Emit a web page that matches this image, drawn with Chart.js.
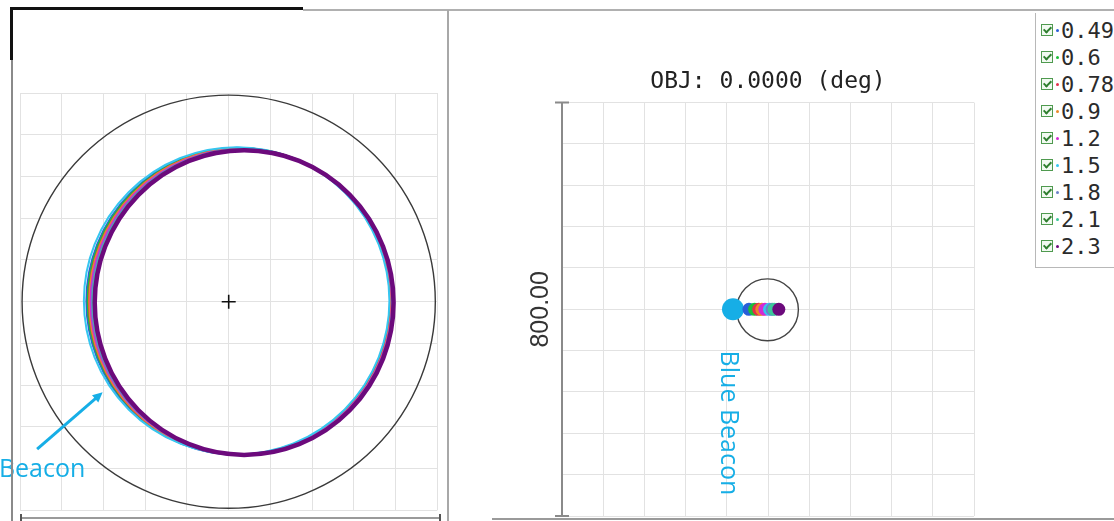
<!DOCTYPE html>
<html>
<head>
<meta charset="utf-8">
<script src="https://cdn.jsdelivr.net/npm/chart.js@4/dist/chart.umd.min.js"></script>
<style>
  html, body { margin: 0; padding: 0; background: #fff; }
  body { width: 1114px; height: 521px; position: relative; overflow: hidden;
         font-family: "Liberation Sans", Arial, sans-serif; }
  .abs { position: absolute; }
  #leftWrap  { left: 0; top: 12px; width: 446px; height: 507px; }
  #rightWrap { left: 450px; top: 0; width: 560px; height: 527px; }
  .ln { position: absolute; }
  #legend { position: absolute; left: 1035px; top: 13px; width: 100px; height: 254px;
            border-left: 1px solid #b8b8b8; border-bottom: 1px solid #b8b8b8;
            font-family: "DejaVu Sans Mono", monospace; font-size: 22px; color: #2b2b2b; }
  .item { position: absolute; left: 0; height: 26px; display: flex; align-items: center; white-space: nowrap; }
  .box { width: 10px; height: 10px; border: 1.5px solid #4f9a4f; margin-left: 5px; position: relative; background: #f2faf2; }
  .box::after { content: ""; position: absolute; left: 3px; top: 0px; width: 3px; height: 6px;
                border: solid #2f7f2f; border-width: 0 2px 2px 0; transform: rotate(45deg); }
  .dot { width: 3px; height: 3px; border-radius: 50%; margin: 0 2px 0 3px; }
</style>
</head>
<body>
<div id="leftWrap" class="abs"><canvas id="leftChart"></canvas></div>
<div id="rightWrap" class="abs"><canvas id="rightChart"></canvas></div>
<div id="legend"></div>

<!-- window frame -->
<div class="ln" style="left:10px;top:7px;width:293px;height:3px;background:#111;"></div>
<div class="ln" style="left:303px;top:9px;width:811px;height:2px;background:#b0b0b0;"></div>
<div class="ln" style="left:10px;top:7px;width:3px;height:53px;background:#111;"></div>
<div class="ln" style="left:11px;top:60px;width:1.5px;height:461px;background:#8a8a8a;"></div>
<div class="ln" style="left:447px;top:10px;width:2px;height:511px;background:#a8a8a8;"></div>
<div class="ln" style="left:20px;top:517px;width:420px;height:1.5px;background:#9a9a9a;"></div>
<div class="ln" style="left:20px;top:514px;width:1.5px;height:7px;background:#555;"></div>
<div class="ln" style="left:439px;top:514px;width:1.5px;height:7px;background:#555;"></div>
<div class="ln" style="left:492px;top:518px;width:622px;height:2px;background:#9a9a9a;"></div>

<script>
// ---- series (height values) ----
const seriesLabels = ['0.49', '0.6', '0.78', '0.9', '1.2', '1.5', '1.8', '2.1', '2.3'];
const seriesColors = ['#2a5fd8', '#1cbf3a', '#e2304a', '#ea8a2a', '#d42ad4', '#36c6f0', '#6a82c8', '#3cc89a', '#6c0a7c'];

// ---- left panel: traced rings per series (grid units, centre + half axes) ----
const ringCenterX = [0.23, 0.25, 0.27, 0.28, 0.30, 0.19, 0.32, 0.34, 0.37];
const ringCenterY = [0.01, 0.01, 0.00, 0.00, 0.00, 0.02, -0.01, -0.01, -0.02];
const ringRadiusX = [3.64, 3.63, 3.62, 3.62, 3.61, 3.66, 3.60, 3.59, 3.58];
const ringRadiusY = [3.68, 3.67, 3.67, 3.67, 3.66, 3.68, 3.66, 3.66, 3.65];
const outerRadius = 4.95;
const beaconArrowFrom = { x: -4.59, y: -3.53 };
const beaconArrowTo   = { x: -3.02, y: -2.17 };
const beaconTextAt    = { x: -4.47, y: -4.02 };

// ---- right panel: positions (same units as the 800.00 span) ----
const blueBeacon = { x: -68, y: 0 };
const dotX = [-37, -26, -18, -12, -6, 3, 8, 12, 21];
const dotY = [0, 0, 0, 0, 0, 0, 0, 0, 0];
const rangeCircle = { x: -1, y: -1, r: 60 };
const blueBeaconTextAt = { x: -77, y: -220 };
const spanLabel = '800.00';
const titleText = 'OBJ: 0.0000 (deg)';

const beaconColor = '#16aee6';
const gridColor = '#e2e2e2';

// ---- legend ----
const legendEl = document.getElementById('legend');
seriesLabels.forEach((lab, i) => {
  const it = document.createElement('div');
  it.className = 'item';
  it.style.top = (4 + 27 * i) + 'px';
  const b = document.createElement('span'); b.className = 'box';
  const d = document.createElement('span'); d.className = 'dot'; d.style.background = seriesColors[i];
  const t = document.createElement('span'); t.textContent = lab;
  it.append(b, d, t);
  legendEl.appendChild(it);
});

function zeroFit(s) { s.height = 0; }
function hiddenAxis(min, max, step) {
  return {
    type: 'linear', min, max,
    ticks: { display: false, stepSize: step },
    grid: { color: gridColor, lineWidth: 1, drawTicks: false },
    border: { display: false }
  };
}

// ---- left chart ----
const leftPlugin = {
  id: 'leftRings',
  beforeDatasetsDraw(chart) {
    const { ctx, scales: { x, y } } = chart;
    const ell = (cx, cy, rx, ry, color, w) => {
      const px = x.getPixelForValue(cx), py = y.getPixelForValue(cy);
      const prx = Math.abs(x.getPixelForValue(cx + rx) - px);
      const pry = Math.abs(y.getPixelForValue(cy + ry) - py);
      ctx.beginPath();
      ctx.ellipse(px, py, prx, pry, 0, 0, Math.PI * 2);
      ctx.strokeStyle = color; ctx.lineWidth = w; ctx.stroke();
    };
    ctx.save();
    ell(0, 0, outerRadius, outerRadius, '#3a3a3a', 1.4);
    seriesLabels.forEach((_, i) =>
      ell(ringCenterX[i], ringCenterY[i], ringRadiusX[i], ringRadiusY[i], seriesColors[i],
          i === seriesLabels.length - 1 ? 4.5 : 2));
    ctx.restore();
  },
  afterDraw(chart) {
    const { ctx, scales: { x, y } } = chart;
    const x0 = x.getPixelForValue(beaconArrowFrom.x), y0 = y.getPixelForValue(beaconArrowFrom.y);
    const x1 = x.getPixelForValue(beaconArrowTo.x),   y1 = y.getPixelForValue(beaconArrowTo.y);
    const a = Math.atan2(y1 - y0, x1 - x0);
    const head = 11;
    ctx.save();
    ctx.strokeStyle = beaconColor; ctx.fillStyle = beaconColor; ctx.lineWidth = 3;
    ctx.beginPath();
    ctx.moveTo(x0, y0);
    ctx.lineTo(x1 - head * 0.8 * Math.cos(a), y1 - head * 0.8 * Math.sin(a));
    ctx.stroke();
    ctx.beginPath();
    ctx.moveTo(x1, y1);
    ctx.lineTo(x1 - head * Math.cos(a - 0.45), y1 - head * Math.sin(a - 0.45));
    ctx.lineTo(x1 - head * Math.cos(a + 0.45), y1 - head * Math.sin(a + 0.45));
    ctx.closePath(); ctx.fill();
    ctx.font = '25px "Open Sans", "Liberation Sans", sans-serif';
    ctx.textAlign = 'center'; ctx.textBaseline = 'middle';
    ctx.fillText('Beacon', x.getPixelForValue(beaconTextAt.x), y.getPixelForValue(beaconTextAt.y));
    ctx.restore();
  }
};

new Chart(document.getElementById('leftChart'), {
  type: 'scatter',
  data: {
    datasets: [{
      label: 'centre',
      data: [{ x: 0, y: 0 }],
      pointStyle: 'cross', pointRadius: 7,
      borderColor: '#111', borderWidth: 1.6, backgroundColor: '#111'
    }]
  },
  options: {
    responsive: true, maintainAspectRatio: false, animation: false,
    layout: { padding: { left: 20, right: 8, top: 81, bottom: 7 } },
    plugins: { legend: { display: false }, tooltip: { enabled: false } },
    scales: {
      x: Object.assign(hiddenAxis(-5, 5, 1), { afterFit: zeroFit }),
      y: Object.assign(hiddenAxis(-5, 5, 1), { afterFit: s => { s.width = 0; } })
    }
  },
  plugins: [leftPlugin]
});

// ---- right chart ----
const rightPlugin = {
  id: 'rightDecor',
  beforeDatasetsDraw(chart) {
    const { ctx, scales: { x, y } } = chart;
    const px = x.getPixelForValue(rangeCircle.x), py = y.getPixelForValue(rangeCircle.y);
    const pr = Math.abs(x.getPixelForValue(rangeCircle.x + rangeCircle.r) - px);
    ctx.save();
    ctx.beginPath(); ctx.arc(px, py, pr, 0, Math.PI * 2);
    ctx.strokeStyle = '#444'; ctx.lineWidth = 1.4; ctx.stroke();
    ctx.restore();
  },
  afterDraw(chart) {
    const { ctx, chartArea: ca, scales: { x, y } } = chart;
    ctx.save();
    // span bar with end caps
    ctx.strokeStyle = '#8a8a8a'; ctx.lineWidth = 2;
    ctx.beginPath();
    ctx.moveTo(ca.left, ca.top); ctx.lineTo(ca.left, ca.bottom);
    ctx.moveTo(ca.left - 7, ca.top); ctx.lineTo(ca.left + 7, ca.top);
    ctx.moveTo(ca.left - 7, ca.bottom); ctx.lineTo(ca.left + 7, ca.bottom);
    ctx.stroke();
    // vertical caption under the beacon
    ctx.translate(x.getPixelForValue(blueBeaconTextAt.x), y.getPixelForValue(blueBeaconTextAt.y));
    ctx.rotate(Math.PI / 2);
    ctx.fillStyle = beaconColor;
    ctx.font = '25px "Open Sans", "Liberation Sans", sans-serif';
    ctx.textAlign = 'center'; ctx.textBaseline = 'middle';
    ctx.fillText('Blue Beacon', 0, 0);
    ctx.restore();
  }
};

const rightDatasets = [{
  label: 'Blue Beacon',
  data: [blueBeacon],
  pointRadius: 11, backgroundColor: beaconColor, borderColor: beaconColor, borderWidth: 0,
  order: 10
}].concat(seriesLabels.map((lab, i) => ({
  label: lab,
  data: [{ x: dotX[i], y: dotY[i] }],
  pointRadius: 6.5, backgroundColor: seriesColors[i], borderColor: seriesColors[i], borderWidth: 0,
  order: -i
})));

new Chart(document.getElementById('rightChart'), {
  type: 'scatter',
  data: { datasets: rightDatasets },
  options: {
    responsive: true, maintainAspectRatio: false, animation: false,
    layout: { padding: { left: 62, right: 36, top: 68, bottom: 5 } },
    plugins: {
      legend: { display: false }, tooltip: { enabled: false },
      title: {
        display: true, text: titleText, fullSize: false,
        color: '#222', font: { family: '"DejaVu Sans Mono", monospace', size: 23, weight: 'normal' },
        padding: { top: 0, bottom: 7 }
      }
    },
    scales: {
      x: Object.assign(hiddenAxis(-400, 400, 80), { afterFit: zeroFit }),
      y: Object.assign(hiddenAxis(-400, 400, 80), {
        title: { display: true, text: spanLabel, color: '#333',
                 font: { family: '"Liberation Sans", Arial, sans-serif', size: 25 },
                 padding: { top: 14, bottom: 0 } },
        afterFit: s => { s.width = 50; }
      })
    }
  },
  plugins: [rightPlugin]
});
</script>
</body>
</html>
